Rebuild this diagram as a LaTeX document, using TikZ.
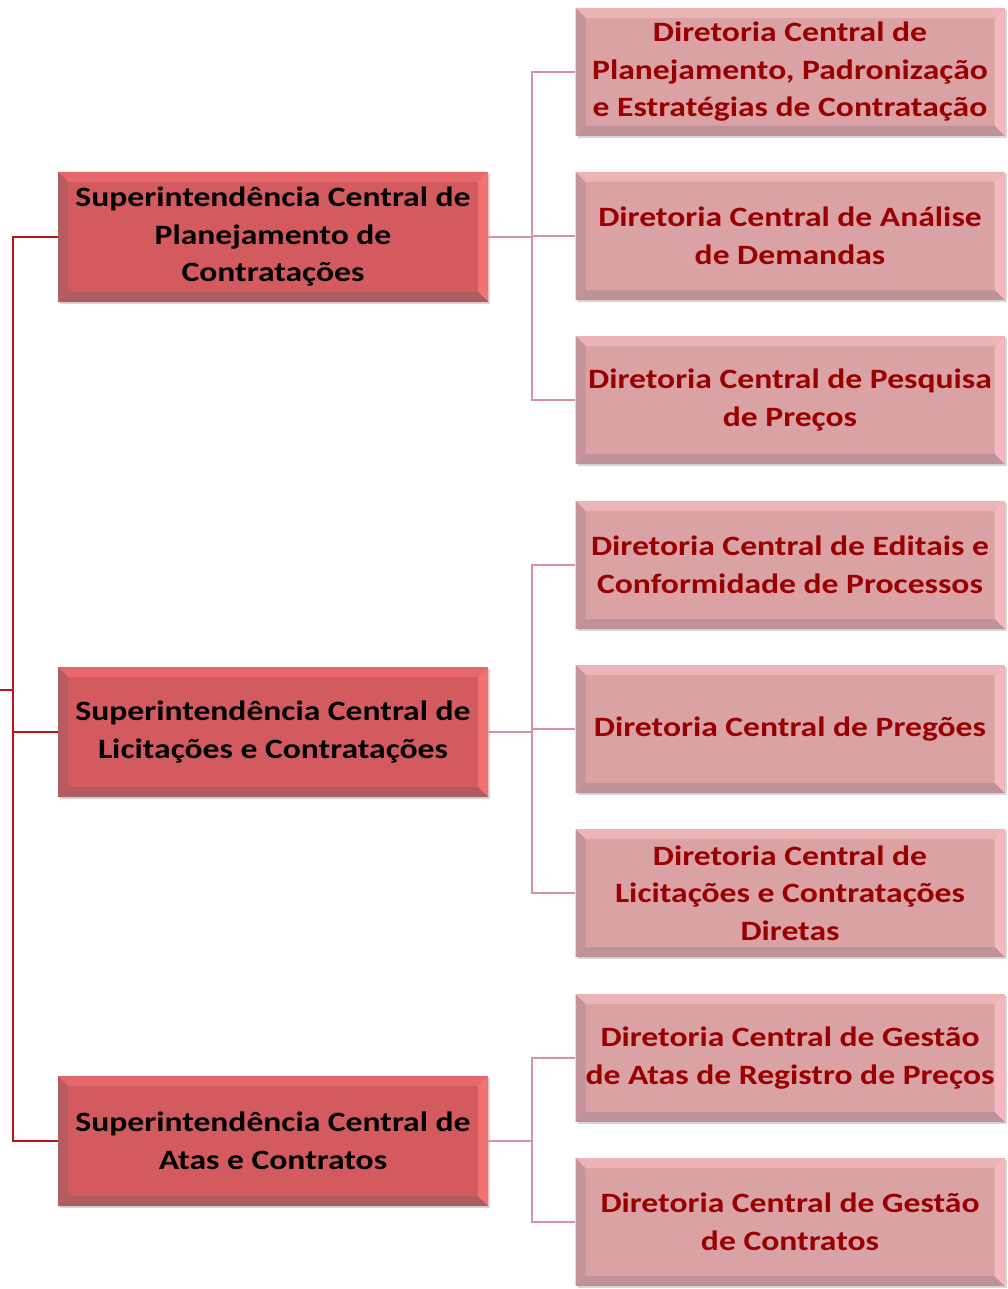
\documentclass[tikz,border=0pt]{standalone}
\usepackage{fontspec}
\setmainfont[FakeStretch=1.2]{Carlito}
\usetikzlibrary{shadows}
\definecolor{supfill}{HTML}{D35A5E}
\definecolor{suptop}{HTML}{E6686C}
\definecolor{supleft}{HTML}{B45C60}
\definecolor{supbot}{HTML}{AE5C60}
\definecolor{supright}{HTML}{F27274}
\definecolor{dirfill}{HTML}{DBA2A6}
\definecolor{dirtop}{HTML}{EDB4B8}
\definecolor{dirleft}{HTML}{C4949A}
\definecolor{dirbot}{HTML}{BE9298}
\definecolor{dirright}{HTML}{F4B8BE}
\definecolor{dirtext}{HTML}{990000}
\definecolor{connpink}{HTML}{D8929B}
\definecolor{trunkred}{HTML}{C0141C}
\newcommand{\bevelpic}[4]{%
  \fill[#1] (path picture bounding box.north west) -- (path picture bounding box.north east)
     -- ([shift={(-10pt,-10pt)}]path picture bounding box.north east) -- ([shift={(10pt,-10pt)}]path picture bounding box.north west) -- cycle;
  \fill[#2] (path picture bounding box.north east) -- (path picture bounding box.south east)
     -- ([shift={(-10pt,10pt)}]path picture bounding box.south east) -- ([shift={(-10pt,-10pt)}]path picture bounding box.north east) -- cycle;
  \fill[#3] (path picture bounding box.south east) -- (path picture bounding box.south west)
     -- ([shift={(10pt,10pt)}]path picture bounding box.south west) -- ([shift={(-10pt,10pt)}]path picture bounding box.south east) -- cycle;
  \fill[#4] (path picture bounding box.south west) -- (path picture bounding box.north west)
     -- ([shift={(10pt,-10pt)}]path picture bounding box.north west) -- ([shift={(10pt,10pt)}]path picture bounding box.south west) -- cycle;
}
\tikzset{
  supbox/.style={rectangle, minimum width=430pt, minimum height=130pt, inner sep=0pt,
    fill=supfill, text=black, align=center,
    font=\fontsize{28}{37.5}\selectfont\bfseries,
    drop shadow={shadow xshift=2pt, shadow yshift=-2pt, opacity=0.25, fill=black!60},
    path picture={\bevelpic{suptop}{supright}{supbot}{supleft}}},
  dirbox/.style={rectangle, minimum width=429pt, minimum height=128pt, inner sep=0pt,
    fill=dirfill, text=dirtext, align=center,
    font=\fontsize{28}{37.5}\selectfont\bfseries,
    drop shadow={shadow xshift=2pt, shadow yshift=-2pt, opacity=0.25, fill=black!60},
    path picture={\bevelpic{dirtop}{dirright}{dirbot}{dirleft}}},
  conn/.style={draw=connpink, line width=2.6pt},
  trunk/.style={draw=trunkred, line width=2.2pt}
}
\begin{document}
\begin{tikzpicture}[x=1pt,y=-1pt]
\useasboundingbox[fill=white] (0,0) rectangle (1008,1289);
% superintendencias
\node[supbox] (s1) at (273,237) {Superintendência Central de\\Planejamento de\\Contratações};
\node[supbox] (s2) at (273,732) {Superintendência Central de\\Licitações e Contratações};
\node[supbox] (s3) at (273,1141) {Superintendência Central de\\Atas e Contratos};
% diretorias
\node[dirbox] (d1) at (790,72) {Diretoria Central de\\Planejamento, Padronização\\e Estratégias de Contratação};
\node[dirbox] (d2) at (790,236) {Diretoria Central de Análise\\de Demandas};
\node[dirbox] (d3) at (790,400) {Diretoria Central de Pesquisa\\de Preços};
\node[dirbox] (d4) at (790,565) {Diretoria Central de Editais e\\Conformidade de Processos};
\node[dirbox] (d5) at (790,729) {Diretoria Central de Pregões};
\node[dirbox] (d6) at (790,893) {Diretoria Central de\\Licitações e Contratações\\Diretas};
\node[dirbox] (d7) at (790,1058) {Diretoria Central de Gestão\\de Atas de Registro de Preços};
\node[dirbox] (d8) at (790,1222) {Diretoria Central de Gestão\\de Contratos};
% junctions
\coordinate (j1) at (532,237);
\coordinate (j2) at (532,732);
\coordinate (j3) at (532,1141);
\coordinate (tk) at (13,690);
\coordinate (edge) at (0,690);
% connectors to diretorias
\draw[conn] (s1.east) -- (j1);
\draw[conn] (j1) |- (d1.west);
\draw[conn] (j1) |- (d2.west);
\draw[conn] (j1) |- (d3.west);
\draw[conn] (s2.east) -- (j2);
\draw[conn] (j2) |- (d4.west);
\draw[conn] (j2) |- (d5.west);
\draw[conn] (j2) |- (d6.west);
\draw[conn] (s3.east) -- (j3);
\draw[conn] (j3) |- (d7.west);
\draw[conn] (j3) |- (d8.west);
% trunk
\draw[trunk] (s1.west) -| (tk);
\draw[trunk] (s2.west) -| (tk);
\draw[trunk] (s3.west) -| (tk);
\draw[trunk] (edge) -- (tk);
\end{tikzpicture}
\end{document}
